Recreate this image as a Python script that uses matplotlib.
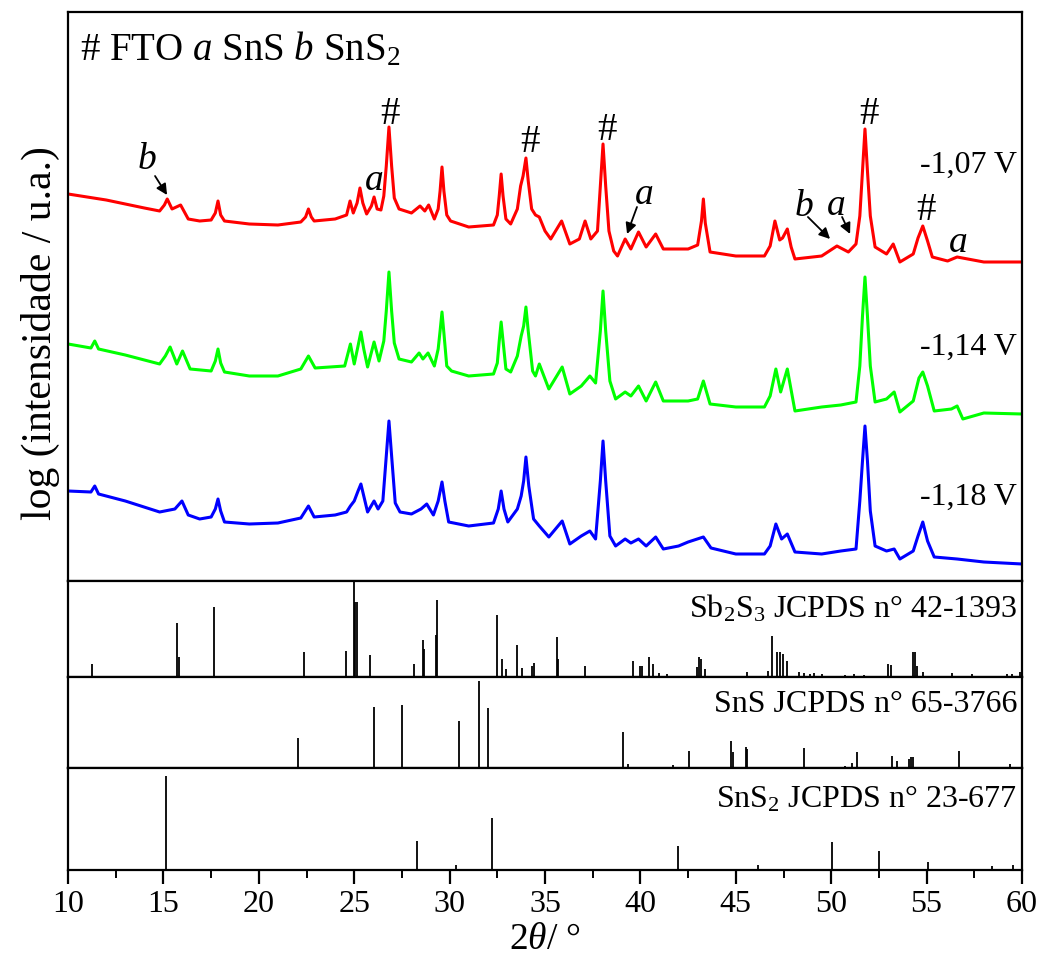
import matplotlib
matplotlib.use("Agg")
import matplotlib.pyplot as plt
from matplotlib.ticker import MultipleLocator

plt.rcParams.update({
    "font.family": "serif",
    "font.serif": ["Liberation Serif", "DejaVu Serif"],
    "mathtext.fontset": "custom",
    "mathtext.rm": "Liberation Serif",
    "mathtext.it": "Liberation Serif:italic",
    "mathtext.bf": "Liberation Serif:bold",
})

# diffractograms (2theta [deg], offset log intensity [a.u.])
RED = [(10.0, 387), (11.0, 384), (12.0, 381), (13.0, 377), (14.0, 373), (14.8, 370), (15.05, 376),
       (15.2, 382), (15.45, 372), (15.9, 376), (16.3, 362), (16.9, 360), (17.5, 361), (17.72, 368),
       (17.86, 380), (18.0, 366), (18.2, 360), (19.5, 357), (21.0, 356), (22.2, 359), (22.45, 364),
       (22.6, 372), (22.75, 364), (22.9, 360), (24.0, 362), (24.6, 366), (24.78, 380), (24.95, 368),
       (25.15, 378), (25.3, 393), (25.45, 378), (25.65, 367), (25.9, 375), (26.04, 384), (26.2, 372),
       (26.4, 371), (26.55, 385), (26.68, 415), (26.82, 454), (26.96, 415), (27.1, 383), (27.35, 372),
       (28.0, 368), (28.45, 375), (28.7, 370), (28.9, 376), (29.2, 362), (29.4, 372), (29.5, 390),
       (29.6, 414), (29.7, 390), (29.85, 366), (30.05, 360), (31.0, 354), (32.3, 356), (32.5, 366),
       (32.6, 385), (32.7, 407), (32.8, 385), (32.95, 362), (33.2, 357), (33.55, 372), (33.72, 395),
       (33.85, 405), (34.0, 423), (34.12, 400), (34.3, 372), (34.5, 366), (34.7, 364), (35.0, 350),
       (35.3, 342), (35.87, 360), (36.3, 337), (36.8, 342), (37.1, 360), (37.4, 342), (37.75, 350),
       (37.9, 395), (38.04, 437), (38.18, 395), (38.35, 350), (38.6, 330), (38.8, 325), (39.2, 342),
       (39.5, 332), (39.9, 349), (40.3, 334), (40.8, 347), (41.2, 332), (42.5, 332), (43.0, 336),
       (43.2, 360), (43.3, 382), (43.4, 358), (43.65, 329), (45.0, 325), (46.5, 325), (46.8, 335),
       (47.05, 360), (47.3, 341), (47.45, 343), (47.7, 352), (47.9, 334), (48.1, 322), (49.5, 325),
       (50.3, 335), (50.9, 329), (51.3, 337), (51.5, 365), (51.64, 410), (51.77, 452), (51.9, 410),
       (52.05, 365), (52.3, 334), (52.9, 327), (53.25, 337), (53.6, 319), (54.3, 327), (54.55, 343),
       (54.8, 355), (55.05, 340), (55.3, 324), (56.1, 320), (56.6, 324), (58.0, 319), (60.0, 319)]

GREEN = [(10.0, 237), (11.2, 233), (11.4, 240), (11.6, 232), (13.0, 226), (14.8, 217), (15.1, 225),
         (15.35, 234), (15.7, 217), (16.0, 230), (16.4, 212), (17.5, 210), (17.72, 220), (17.86, 232),
         (18.0, 218), (18.2, 209), (19.5, 205), (21.0, 205), (22.2, 212), (22.6, 225), (22.95, 213),
         (24.5, 215), (24.8, 237), (25.0, 217), (25.2, 235), (25.35, 249), (25.5, 232), (25.7, 214),
         (26.04, 239), (26.3, 220), (26.55, 240), (26.68, 270), (26.82, 309), (26.96, 270), (27.1, 238),
         (27.35, 222), (28.0, 219), (28.4, 228), (28.6, 222), (28.87, 228), (29.2, 215), (29.4, 232),
         (29.5, 250), (29.6, 269), (29.7, 248), (29.85, 215), (30.1, 210), (31.0, 205), (32.3, 207),
         (32.5, 218), (32.6, 240), (32.7, 259), (32.8, 240), (32.95, 212), (33.2, 209), (33.55, 225),
         (33.75, 245), (33.88, 255), (34.0, 274), (34.12, 250), (34.35, 210), (34.5, 205), (34.7, 217),
         (35.2, 192), (35.9, 214), (36.3, 187), (36.9, 195), (37.35, 205), (37.65, 198), (37.9, 250),
         (38.04, 290), (38.18, 250), (38.4, 200), (38.7, 182), (39.2, 189), (39.5, 185), (39.9, 195),
         (40.3, 180), (40.8, 199), (41.2, 180), (42.5, 180), (43.0, 182), (43.3, 200), (43.65, 177),
         (45.0, 174), (46.5, 174), (46.8, 185), (47.1, 212), (47.35, 189), (47.7, 212), (48.1, 170),
         (49.5, 174), (50.5, 176), (51.3, 179), (51.5, 215), (51.64, 265), (51.77, 304), (51.9, 265),
         (52.05, 215), (52.3, 179), (52.9, 182), (53.3, 189), (53.6, 169), (54.3, 180), (54.6, 203),
         (54.8, 209), (55.05, 195), (55.4, 170), (56.3, 172), (56.6, 175), (56.9, 162), (58.0, 168),
         (60.0, 167)]

BLUE = [(10.0, 90), (11.2, 89), (11.4, 95), (11.6, 87), (13.0, 80), (14.8, 69), (15.6, 72), (15.97, 80),
        (16.3, 66), (16.9, 62), (17.5, 64), (17.72, 72), (17.86, 82), (18.0, 70), (18.2, 59), (19.5, 57),
        (21.0, 58), (22.2, 63), (22.6, 75), (22.9, 64), (24.0, 66), (24.6, 69), (24.8, 75), (25.0, 80),
        (25.2, 90), (25.35, 97), (25.5, 85), (25.7, 69), (26.04, 80), (26.25, 72), (26.5, 80), (26.66, 120),
        (26.82, 160), (26.98, 120), (27.15, 78), (27.4, 69), (28.0, 67), (28.5, 72), (28.8, 77),
        (29.15, 66), (29.4, 80), (29.6, 99), (29.75, 80), (29.95, 59), (31.0, 55), (32.3, 58),
        (32.55, 72), (32.7, 90), (32.85, 72), (33.05, 59), (33.55, 72), (33.75, 85), (33.88, 100),
        (34.0, 124), (34.15, 95), (34.4, 62), (34.7, 55), (35.2, 44), (35.9, 60), (36.3, 37), (36.9, 45),
        (37.35, 50), (37.65, 42), (37.9, 100), (38.04, 140), (38.18, 100), (38.4, 45), (38.7, 35),
        (39.2, 42), (39.5, 38), (39.9, 42), (40.3, 35), (40.8, 44), (41.2, 32), (42.0, 35), (42.5, 39),
        (43.3, 44), (43.7, 33), (45.0, 27), (46.5, 27), (46.8, 35), (47.1, 57), (47.4, 42), (47.7, 47),
        (48.1, 29), (49.5, 27), (50.5, 30), (51.3, 32), (51.5, 80), (51.64, 120), (51.77, 155),
        (51.9, 120), (52.05, 70), (52.3, 35), (52.9, 30), (53.3, 32), (53.6, 22), (54.3, 30),
        (54.55, 45), (54.8, 59), (55.05, 40), (55.4, 24), (56.6, 22), (58.0, 19), (60.0, 17)]

CURVES = [(RED, "#ff0000", "-1,07 V", 417), (GREEN, "#00ff00", "-1,14 V", 235), (BLUE, "#0000ff", "-1,18 V", 85)]

# reference patterns (2theta, relative intensity)
SB2S3 = [(11.24, 13), (15.73, 54), (15.83, 20), (17.63, 70), (22.38, 25), (24.58, 26), (24.97, 95),
         (25.06, 75), (25.12, 75), (25.83, 22), (28.15, 13), (28.59, 37), (28.67, 28), (29.27, 42),
         (29.35, 77), (32.47, 62), (32.73, 18), (32.96, 8), (33.52, 32), (33.78, 9), (34.34, 11),
         (34.42, 14), (35.61, 40), (35.68, 18), (37.1, 11), (39.63, 16), (39.98, 11), (40.08, 11),
         (40.47, 20), (40.68, 13), (40.95, 4), (41.4, 3), (42.95, 10), (43.05, 20), (43.16, 18),
         (43.38, 8), (45.57, 5), (46.70, 6), (46.88, 41), (47.14, 25), (47.32, 25), (47.49, 23),
         (47.67, 16), (48.33, 5), (48.6, 4), (48.9, 3), (49.1, 4), (49.5, 3), (50.7, 2), (51.2, 3),
         (51.7, 2), (52.99, 13), (53.12, 12), (54.27, 25), (54.37, 25), (54.51, 11), (54.83, 5),
         (56.31, 4), (57.4, 3), (59.2, 3), (59.5, 3), (59.9, 5)]
SNS = [(22.04, 30), (26.04, 61), (27.5, 63), (30.51, 47), (31.56, 87), (32.01, 60), (39.07, 36),
       (39.33, 4), (41.72, 3), (42.53, 17), (44.75, 27), (44.83, 16), (45.52, 21), (45.6, 19),
       (48.57, 20), (50.72, 2), (51.11, 5), (51.33, 16), (53.17, 12), (53.43, 7), (54.06, 9),
       (54.18, 11), (54.3, 11), (56.71, 17), (59.37, 4)]
SNS2 = [(15.12, 94), (28.27, 29), (30.34, 5), (32.21, 52), (41.95, 24), (46.18, 5), (50.04, 28),
        (52.52, 19), (55.06, 8), (58.41, 4), (59.54, 5)]

REFS = [(SB2S3, r"Sb$_2$S$_3$ JCPDS n° 42-1393", 96),
        (SNS, "SnS JCPDS n° 65-3766", 91),
        (SNS2, r"SnS$_2$ JCPDS n° 23-677", 102)]

FTO_MARKS = [(26.9, 468), (34.21, 440), (38.25, 452), (51.98, 468), (54.97, 371)]
PHASE_MARKS = [("b", 14.14, 422), ("a", 26.04, 401), ("a", 40.19, 387), ("b", 48.57, 375),
               ("a", 50.25, 376), ("a", 56.65, 339)]
ARROWS = [((14.56, 405), (15.19, 386)), ((39.82, 374), (39.3, 347)),
          ((48.78, 364), (49.94, 342)), ((50.57, 364), (50.99, 347))]

fig = plt.figure(figsize=(10.42, 9.62), dpi=100)
gs = fig.add_gridspec(4, 1, height_ratios=[569, 96, 91, 102], hspace=0,
                      left=0.0653, right=0.9808, bottom=1 - 871 / 962, top=1 - 13 / 962)
axes = [fig.add_subplot(gs[i]) for i in range(4)]
ax = axes[0]

for data, color, label, ylab in CURVES:
    tt, ii = zip(*data)
    ax.plot(tt, ii, color=color, lw=2.2, solid_joinstyle="round")
    ax.text(59.72, ylab, label, ha="right", va="center", fontsize=23)

ax.set_ylim(0, 569)
ax.text(10.63, 522, r"# FTO $a$ SnS $b$ SnS$_2$", ha="left", va="baseline", fontsize=28)
for x, y in FTO_MARKS:
    ax.text(x, y, "#", ha="center", va="center", fontsize=28)
for s, x, y in PHASE_MARKS:
    ax.text(x, y, "$%s$" % s, ha="center", va="center", fontsize=27)
for tail, tip in ARROWS:
    ax.annotate("", xy=tip, xytext=tail,
                arrowprops=dict(arrowstyle="-|>", color="k", lw=1.3, mutation_scale=16,
                                shrinkA=0, shrinkB=0))

for a, (data, label, top) in zip(axes[1:], REFS):
    tt, ii = zip(*data)
    a.vlines(tt, 0, ii, color="k", lw=1.3)
    a.set_ylim(0, top)
    a.text(0.995, 0.625, label, transform=a.transAxes, ha="right", va="baseline", fontsize=23)

for a in axes:
    a.set_xlim(10, 60)
    for sp in a.spines.values():
        sp.set_linewidth(1.6)
    a.tick_params(left=False, labelleft=False, bottom=False, labelbottom=False)

axb = axes[-1]
axb.xaxis.set_major_locator(MultipleLocator(5))
axb.xaxis.set_minor_locator(MultipleLocator(2.5))
axb.tick_params(axis="x", which="major", bottom=True, labelbottom=True, direction="out",
                length=10, width=1.6, labelsize=23, pad=4)
axb.tick_params(axis="x", which="minor", bottom=True, direction="out", length=6, width=1.4)
axb.set_xlabel(r"2$\theta$/ °", fontsize=27, labelpad=2)

fig.text(40 / 1042, 1 - 333 / 962, "log (intensidade / u.a.)", rotation=90,
         ha="center", va="center", fontsize=30)

fig.savefig("out.png", dpi=100)
